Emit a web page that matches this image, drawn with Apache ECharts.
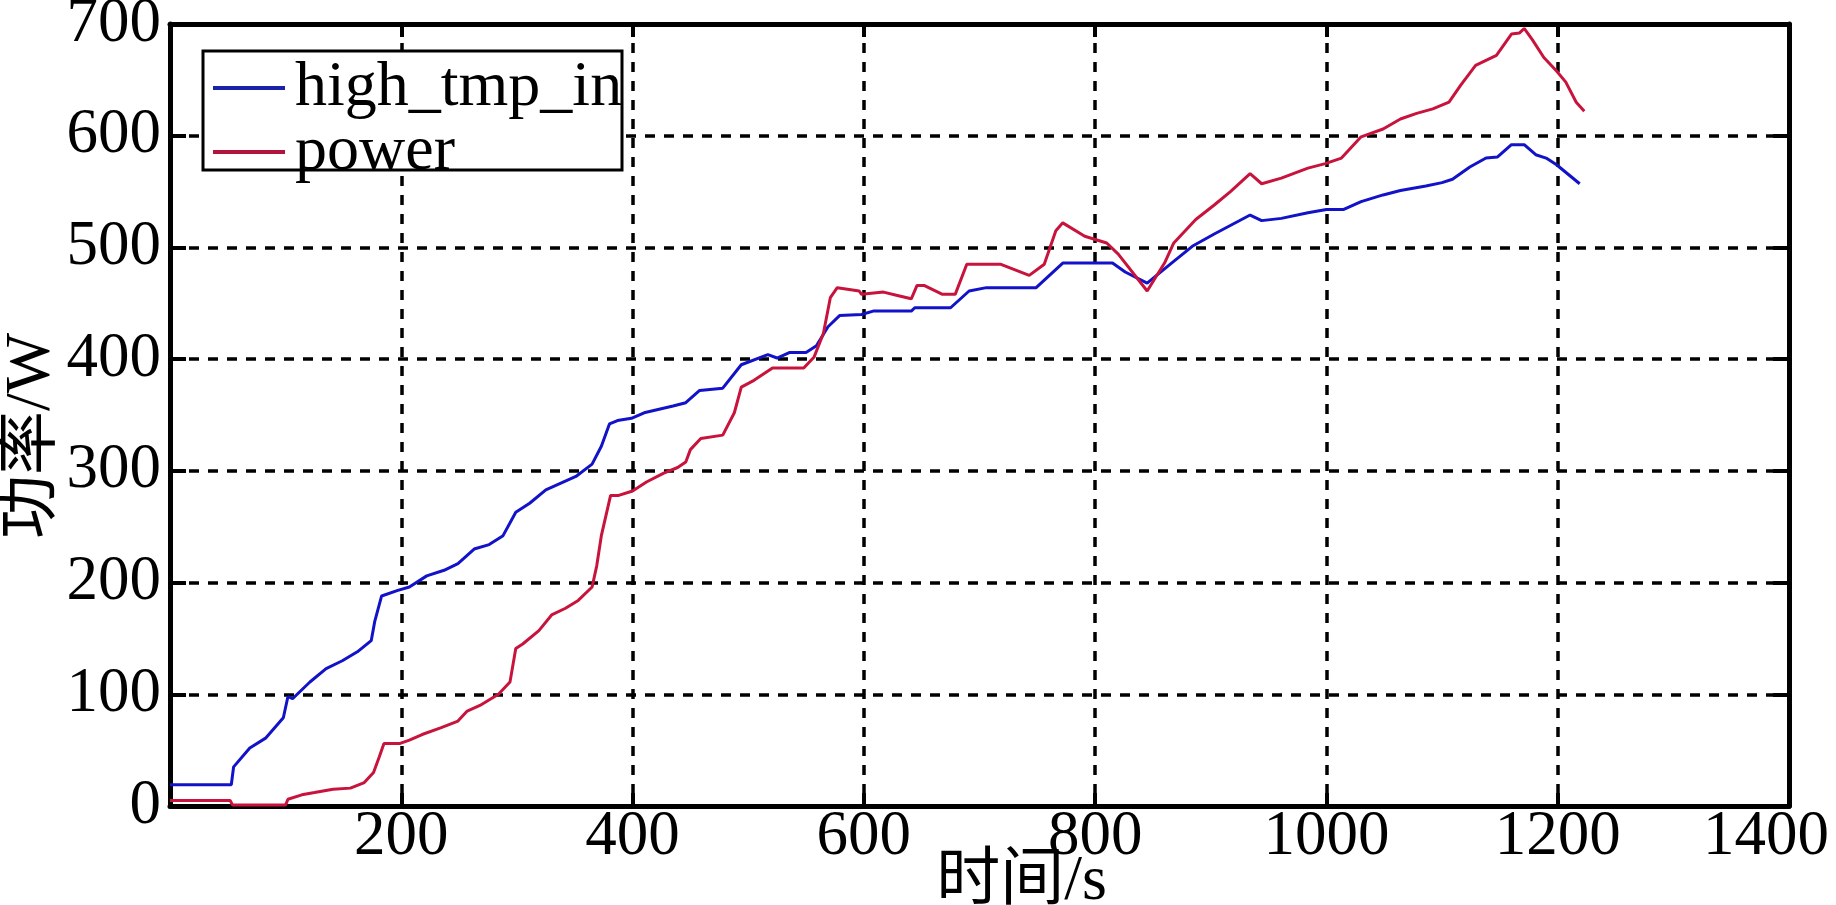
<!DOCTYPE html>
<html>
<head>
<meta charset="utf-8">
<script src="https://cdn.jsdelivr.net/npm/echarts@6/dist/echarts.min.js"></script>
<style>
html,body{margin:0;padding:0;background:#fff;}
#chart{width:1836px;height:905px;}
</style>
</head>
<body>
<div id="chart"></div>
<script>
// ---- data ----
const blueTime = [0,53,55,69,83,98,102,106,110,121,135,149,162,174,177,183,197,207,222,237,249,263,276,288,299,311,325,338,351,365,373,380,387,399,410,435,446,458,478,494,517,525,536,550,559,569,579,598,608,641,644,675,691,706,749,772,815,826,845,865,884,903,923,934,944,961,984,1000,1015,1030,1049,1064,1086,1100,1109,1124,1138,1148,1160,1171,1181,1190,1199,1219];
const blueValue = [19,19,35,52,61,79,98,96,100,111,123,130,138,148,165,188,193,196,206,211,217,230,234,242,263,271,283,289,295,306,322,342,345,347,352,358,361,372,374,395,404,401,406,406,412,429,439,440,443,443,446,446,461,464,464,486,486,478,468,485,501,512,523,529,524,526,531,534,534,541,547,551,555,558,561,572,580,581,592,592,583,580,574,557];

const redTime = [0,52,54,100,102,114,125,141,156,168,176,181,185,199,207,218,234,249,257,268,284,294,299,305,319,330,342,353,365,369,373,381,388,400,412,427,439,446,450,459,478,488,494,505,521,548,557,565,571,577,596,598,617,629,641,646,652,668,679,689,718,743,756,766,772,791,810,820,845,860,868,887,903,917,934,944,961,984,999,1013,1030,1049,1064,1078,1092,1106,1116,1129,1147,1160,1167,1171,1178,1188,1199,1207,1216,1223];
const redValue = [5,5,1,1,6,10,12,15,16,21,30,44,56,56,59,64,70,76,85,90,100,111,141,145,157,171,177,184,196,215,242,278,278,282,290,298,303,308,319,329,332,352,375,381,392,392,402,423,455,464,461,458,460,457,454,466,466,458,458,485,485,475,485,515,522,510,504,494,461,486,504,525,538,550,566,557,562,571,575,580,599,606,615,620,624,630,645,663,672,691,692,696,686,670,658,648,630,622];

const seriesNames = ['high_tmp_in', 'power'];
const xTicks = {min: 0, max: 1400, step: 200};
const yTicks = {min: 0, max: 700, step: 100};
const xAxisTitle = '时间/s';
const yAxisTitle = '功率/W';

const FONT = "'Liberation Serif', 'Times New Roman', 'Noto Sans CJK SC', serif";
const blueData = blueTime.map((t, i) => [t, blueValue[i]]);
const redData = redTime.map((t, i) => [t, redValue[i]]);

const chart = echarts.init(document.getElementById('chart'), null, {renderer: 'canvas'});
const gridLine = {show: true, lineStyle: {color: '#000', width: 3.5, type: [10, 9]}};
const axisLineStyle = {show: true, onZero: false, lineStyle: {color: '#000', width: 5}};
const tickStyle = {color: '#000', width: 4};
const LEGEND_ICON = 'path://M0,0 L72,0 L72,4 L0,4 Z';

chart.setOption({
  animation: false,
  backgroundColor: '#fff',
  grid: {left: 170, right: 47, top: 24, bottom: 99, containLabel: false, outerBoundsMode: 'none'},
  legend: {
    orient: 'vertical',
    left: 213, top: 56,
    padding: 0,
    itemGap: 0,
    itemWidth: 72, itemHeight: 4,
    z: 100,
    textStyle: {fontFamily: FONT, fontSize: 64, lineHeight: 54, color: '#000', padding: [0, 0, 0, 5]},
    data: [
      {name: seriesNames[0], icon: LEGEND_ICON, itemStyle: {color: '#1a22a8'}},
      {name: seriesNames[1], icon: LEGEND_ICON, itemStyle: {color: '#b0143c'}}
    ]
  },
  graphic: [{
    type: 'rect', z: 50,
    shape: {x: 203, y: 51, width: 419, height: 119},
    style: {fill: '#fff', stroke: '#000', lineWidth: 3}
  }],
  xAxis: [{
    type: 'value', min: xTicks.min, max: xTicks.max, interval: xTicks.step, position: 'bottom',
    axisLine: axisLineStyle,
    axisTick: {show: true, inside: true, length: 13, lineStyle: tickStyle},
    splitLine: gridLine,
    axisLabel: {
      color: '#000', fontFamily: FONT, fontSize: 63, margin: 0,
      formatter: v => v === 0 ? '' : (v === 1400 ? '{e|' + v + '}' : String(v)),
      rich: {e: {fontFamily: FONT, fontSize: 63, color: '#000', padding: [0, 46, 0, 0]}}
    },
    name: xAxisTitle, nameLocation: 'middle', nameGap: 44, nameMoveOverlap: false,
    nameTextStyle: {color: '#000', fontFamily: FONT, fontSize: 64, padding: [0, 0, 0, 84]}
  }, {
    type: 'value', min: xTicks.min, max: xTicks.max, interval: xTicks.step, position: 'top',
    axisLine: axisLineStyle,
    axisTick: {show: true, inside: true, length: 13, lineStyle: tickStyle},
    axisLabel: {show: false}, splitLine: {show: false}
  }],
  yAxis: [{
    type: 'value', min: yTicks.min, max: yTicks.max, interval: yTicks.step, position: 'left',
    axisLine: axisLineStyle,
    axisTick: {show: true, inside: true, length: 16, lineStyle: tickStyle},
    splitLine: gridLine,
    axisLabel: {color: '#000', fontFamily: FONT, fontSize: 63, margin: 9},
    name: yAxisTitle, nameLocation: 'middle', nameGap: 106, nameMoveOverlap: false,
    nameTextStyle: {color: '#000', fontFamily: FONT, fontSize: 64, padding: [0, 42, 0, 0]}
  }, {
    type: 'value', min: yTicks.min, max: yTicks.max, interval: yTicks.step, position: 'right',
    axisLine: axisLineStyle,
    axisTick: {show: true, inside: true, length: 16, lineStyle: tickStyle},
    axisLabel: {show: false}, splitLine: {show: false}
  }],
  series: [{
    name: seriesNames[0], type: 'line', xAxisIndex: 0, yAxisIndex: 0,
    data: blueData, showSymbol: false, symbol: 'none', z: 5,
    lineStyle: {color: '#1212c8', width: 3}, itemStyle: {color: '#1212c8'}
  }, {
    name: seriesNames[1], type: 'line', xAxisIndex: 0, yAxisIndex: 0,
    data: redData, showSymbol: false, symbol: 'none', z: 6,
    lineStyle: {color: '#c8143c', width: 3}, itemStyle: {color: '#c8143c'}
  }]
});
</script>
</body>
</html>
